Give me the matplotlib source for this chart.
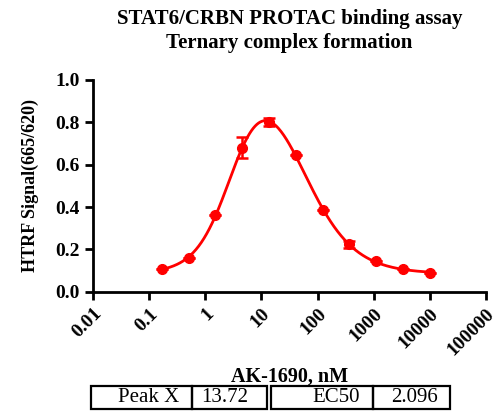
import numpy as np
import matplotlib.pyplot as plt
from matplotlib.patches import Rectangle
from matplotlib.ticker import FixedLocator, FixedFormatter, NullLocator

# AK-1690 concentrations (nM), 3-fold dilution
conc = [0.169, 0.508, 1.52, 4.57, 13.7, 41.2, 123.5, 370, 1111, 3333, 10000]
signal = [0.110, 0.160, 0.362, 0.680, 0.802, 0.645, 0.385, 0.224, 0.145, 0.108, 0.088]
err = [0.0, 0.0, 0.0, 0.050, 0.020, 0.0, 0.0, 0.015, 0.0, 0.0, 0.0]

xticks = [0.01, 0.1, 1, 10, 100, 1000, 10000, 100000]
xticklabels = ['0.01', '0.1', '1', '10', '100', '1000', '10000', '100000']
yticks = [0.0, 0.2, 0.4, 0.6, 0.8, 1.0]

table_names = ['Peak X', 'EC50']
table_vals = ['13.72', '2.096']

serif = ['Liberation Serif', 'DejaVu Serif']
plt.rcParams['font.family'] = serif


# bell shaped model, fitted to the points
def model(p, lx):
    p1, top, p2, l1, h1, l2, h2 = p
    up = 1.0 / (1.0 + 10 ** ((l1 - lx) * h1))
    down = 1.0 / (1.0 + 10 ** ((l2 - lx) * h2))
    return p1 + (top - p1) * up + (p2 - top) * down


lx = np.log10(conc)
yv = np.array(signal)
p0 = np.array([0.09, 0.95, 0.07, 0.42, 1.3, 1.95, 1.0])
p = p0.copy()
lam = 1e-2
for it in range(300):
    r = yv - model(p, lx)
    J = np.zeros((len(lx), len(p)))
    for k in range(len(p)):
        dp = np.zeros(len(p))
        dp[k] = 1e-6
        J[:, k] = (model(p + dp, lx) - model(p, lx)) / 1e-6
    A = J.T @ J
    g = J.T @ r
    try:
        step = np.linalg.solve(A + lam * np.diag(np.diag(A) + 1e-9), g)
    except np.linalg.LinAlgError:
        break
    pn = p + step
    if np.all(np.isfinite(pn)) and np.sum((yv - model(pn, lx)) ** 2) < np.sum(r ** 2):
        p = pn
        lam /= 3
    else:
        lam *= 3
if not np.all(np.isfinite(p)):
    p = p0

fig = plt.figure(figsize=(5, 4.2), dpi=100)
ax = fig.add_axes([0.186, 0.305, 0.786, 0.505])

xs = np.linspace(lx.min(), lx.max(), 300)
ax.plot(10 ** xs, model(p, xs), color='#ff0000', lw=2)
ax.errorbar(conc, signal, yerr=err, fmt='o', color='#ff0000', ms=7,
            elinewidth=1.8, capsize=4, capthick=1.8)

ax.set_xscale('log')
ax.set_xlim(0.01, 100000)
ax.set_ylim(0, 1.0)
ax.xaxis.set_major_locator(FixedLocator(xticks))
ax.xaxis.set_major_formatter(FixedFormatter(xticklabels))
ax.xaxis.set_minor_locator(NullLocator())
ax.set_yticks(yticks)
ax.set_yticklabels(['%.1f' % v for v in yticks])

for s in ['top', 'right']:
    ax.spines[s].set_visible(False)
for s in ['left', 'bottom']:
    ax.spines[s].set_linewidth(2)
ax.tick_params(width=2, length=6)
ax.tick_params(axis='y', labelsize=14)
ax.tick_params(axis='x', labelsize=14)
for lab in ax.get_xticklabels():
    lab.set_rotation(45)
    lab.set_ha('right')
    lab.set_va('top')
    lab.set_fontweight('bold')
    lab.set_rotation_mode('anchor')
for lab in ax.get_yticklabels():
    lab.set_fontweight('bold')

ax.set_ylabel('HTRF Signal(665/620)', fontsize=13, fontweight='bold')
ax.yaxis.set_label_coords(-0.138, 0.5)
fig.text(0.579, 0.926, 'STAT6/CRBN PROTAC binding assay\nTernary complex formation',
         ha='center', va='center', fontsize=15, fontweight='bold', linespacing=1.3)
fig.text(0.579, 0.103, 'AK-1690, nM', ha='center', va='center', fontsize=14.5, fontweight='bold')

# stats table under the axis
H = 420.0
W = 500.0
boxes = [(91, 192), (192, 267), (271, 373), (373, 450)]
y0, y1 = 386, 409
for (a, b) in boxes:
    fig.add_artist(Rectangle((a / W, 1 - y1 / H), (b - a) / W, (y1 - y0) / H,
                             transform=fig.transFigure, fill=False, lw=1.6, color='black'))
ym = 1 - (y0 + y1) / 2 / H
fig.text(179 / W, ym, table_names[0], ha='right', va='center', fontsize=15)
fig.text(225 / W, ym, table_vals[0], ha='center', va='center', fontsize=15)
fig.text(360 / W, ym, table_names[1], ha='right', va='center', fontsize=15)
fig.text(414 / W, ym, table_vals[1], ha='center', va='center', fontsize=15)

fig.savefig('out.png', dpi=100)
